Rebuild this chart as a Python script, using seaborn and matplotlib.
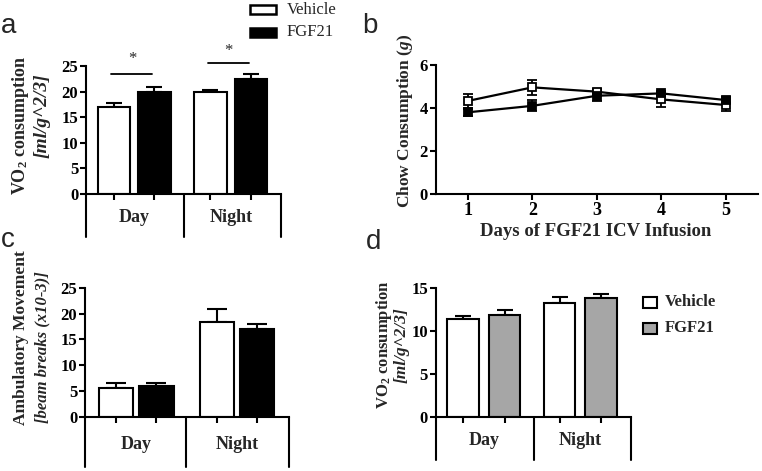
import matplotlib
matplotlib.use('Agg')
import matplotlib.pyplot as plt
import matplotlib.patches as mpatches
import seaborn as sns
import pandas as pd
import numpy as np

# ---- data ----
periods = ['Day', 'Night']
groups = ['Vehicle', 'FGF21']

# a: VO2 consumption (first study)
vo2_a_vehicle = [17.0, 20.0]
vo2_a_vehicle_err = [0.8, 0.4]
vo2_a_fgf21 = [20.0, 22.5]
vo2_a_fgf21_err = [0.9, 0.9]

# b: chow consumption per day
days = [1, 2, 3, 4, 5]
chow_vehicle = [4.33, 4.96, 4.76, 4.40, 4.14]
chow_vehicle_err = [0.31, 0.34, 0.12, 0.35, 0.28]
chow_fgf21 = [3.80, 4.10, 4.57, 4.68, 4.37]
chow_fgf21_err = [0.17, 0.25, 0.23, 0.12, 0.16]

# c: ambulatory movement
amb_vehicle = [5.6, 18.35]
amb_vehicle_err = [1.0, 2.5]
amb_fgf21 = [5.95, 16.9]
amb_fgf21_err = [0.55, 1.0]

# d: VO2 consumption (second study)
vo2_d_vehicle = [11.45, 13.32]
vo2_d_vehicle_err = [0.3, 0.63]
vo2_d_fgf21 = [11.85, 13.83]
vo2_d_fgf21_err = [0.6, 0.5]

W, H = 762, 471


def fx(px):
    return px / W


def fy(py):
    return 1 - py / H


sns.set_style('ticks')
plt.rcParams['font.family'] = ['Liberation Serif', 'DejaVu Serif']
plt.rcParams['font.weight'] = 'bold'
plt.rcParams['mathtext.fontset'] = 'custom'
plt.rcParams['mathtext.rm'] = 'Liberation Serif:bold'
plt.rcParams['mathtext.it'] = 'Liberation Serif:italic:bold'
plt.rcParams['mathtext.bf'] = 'Liberation Serif:bold'
plt.rcParams['axes.linewidth'] = 1.5

fig = plt.figure(figsize=(W / 100, H / 100), dpi=100)


def axes_px(x0, x1, y0, y1):
    return fig.add_axes([fx(x0), fy(y1), (x1 - x0) / W, (y1 - y0) / H])


def style_axis(ax):
    sns.despine(ax=ax)
    ax.tick_params(axis='both', direction='out', length=4, width=1.5,
                   colors='black', pad=1.5)
    for sp in ax.spines.values():
        sp.set_color('black')
        sp.set_linewidth(1.5)
    ax.set_facecolor('none')


def bar_panel(ax, veh, veh_err, fgf, fgf_err, ymax, ystep, fgf_color,
              width, gap, capsize, box_depth, xlim, divider):
    df = pd.DataFrame({
        'period': periods * 2,
        'group': ['Vehicle'] * 2 + ['FGF21'] * 2,
        'value': veh + fgf,
    })
    sns.barplot(data=df, x='period', y='value', hue='group', order=periods,
                hue_order=groups, palette={'Vehicle': 'white', 'FGF21': fgf_color},
                edgecolor='black', linewidth=1.5, width=width, gap=gap,
                errorbar=None, legend=False, ax=ax, zorder=2)
    centers = []
    for cont, err in zip(ax.containers, [veh_err, fgf_err]):
        xs = [b.get_x() + b.get_width() / 2 for b in cont]
        hs = [b.get_height() for b in cont]
        ax.errorbar(xs, hs, yerr=[np.zeros(len(err)), err], fmt='none',
                    ecolor='black', elinewidth=1.5, capsize=capsize,
                    capthick=1.5, zorder=1)
        centers += xs
    ax.set_xlim(*xlim)
    ax.set_ylim(0, ymax)
    ax.set_yticks(np.arange(0, ymax + 0.1, ystep))
    ax.set_xticks(sorted(centers))
    ax.set_xticklabels([])
    ax.set_xlabel('')
    ax.set_ylabel('')
    style_axis(ax)
    ax.tick_params(axis='y', labelsize=12)
    tr = ax.get_xaxis_transform()
    for xv in [xlim[0], divider, xlim[1]]:
        ax.plot([xv, xv], [0, -box_depth], transform=tr, clip_on=False,
                color='black', lw=1.5)
    for i, p in enumerate(periods):
        ax.text(i, -box_depth * 0.55, p, transform=tr, ha='center',
                va='center', fontsize=13, fontweight='bold')


# ---- a ----
ax_a = axes_px(86, 281, 66, 194)
bar_panel(ax_a, vo2_a_vehicle, vo2_a_vehicle_err, vo2_a_fgf21, vo2_a_fgf21_err,
          25, 5, 'black', 0.84, 0.2, 6, 43 / 128, (-0.497, 1.52), 0.515)
for g, yl, ys in [(0, 23.4, 26.4), (1, 25.6, 27.9)]:
    ax_a.plot([g - 0.24, g + 0.19], [yl, yl], color='black', lw=1.3, clip_on=False)
    ax_a.text(g - 0.02, ys, '*', ha='center', va='center', fontsize=12,
              fontweight='normal', clip_on=False)

fig.text(fx(21), fy(125), r'VO$_2$ consumption', rotation=90, ha='center',
         va='center', fontsize=13, fontweight='bold')
fig.text(fx(42), fy(116), '[ml/g^2/3]', rotation=90, ha='center', va='center',
         fontsize=14, fontweight='bold', fontstyle='italic')

# top legend
for (y0, fc, lab) in [(5, 'white', 'Vehicle'), (28, 'black', 'FGF21')]:
    fig.add_artist(mpatches.Rectangle((fx(250), fy(y0 + 9)), 26 / W, 9 / H,
                                      transform=fig.transFigure, facecolor=fc,
                                      edgecolor='black', lw=1.8))
    fig.text(fx(287), fy(y0 + 4.5), lab, ha='left', va='center', fontsize=12,
             fontweight='normal')

# ---- b ----
ax_b = axes_px(435.7, 758, 65, 194)
ax_b.errorbar(days, chow_vehicle, yerr=chow_vehicle_err, fmt='none',
              ecolor='black', elinewidth=1.3, capsize=3.5, capthick=1.3, zorder=2)
ax_b.errorbar(days, chow_fgf21, yerr=chow_fgf21_err, fmt='none',
              ecolor='black', elinewidth=1.3, capsize=3.5, capthick=1.3, zorder=2)
sns.lineplot(x=days, y=chow_vehicle, ax=ax_b, color='black', lw=1.6,
             marker='s', markersize=5.5, markerfacecolor='white',
             markeredgecolor='black', markeredgewidth=1.3, zorder=3)
sns.lineplot(x=days, y=chow_fgf21, ax=ax_b, color='black', lw=1.6,
             marker='s', markersize=5.5, markerfacecolor='black',
             markeredgecolor='black', markeredgewidth=1.3, zorder=4)
ax_b.set_xlim(0.5, 5.5)
ax_b.set_ylim(0, 6)
ax_b.set_yticks([0, 2, 4, 6])
ax_b.set_xticks(days)
style_axis(ax_b)
ax_b.tick_params(axis='y', labelsize=12)
ax_b.tick_params(axis='x', labelsize=13)
fig.text(fx(596), fy(232), 'Days of FGF21 ICV Infusion', ha='center',
         va='center', fontsize=13.5, fontweight='bold')
fig.text(fx(405), fy(121), r'Chow Consumption ($\mathit{g}$)', rotation=90,
         ha='center', va='center', fontsize=12.5, fontweight='bold')

# ---- c ----
ax_c = axes_px(85, 289.3, 287.7, 416.7)
bar_panel(ax_c, amb_vehicle, amb_vehicle_err, amb_fgf21, amb_fgf21_err,
          25, 5, 'black', 0.8, 0.15, 7.5, 50 / 129, (-0.51, 1.52), 0.49)
fig.text(fx(21), fy(338), 'Ambulatory Movement', rotation=90, ha='center',
         va='center', fontsize=12.5, fontweight='bold')
fig.text(fx(42), fy(347), '[beam breaks (x10-3)]', rotation=90, ha='center',
         va='center', fontsize=12, fontweight='bold', fontstyle='italic')

# ---- d ----
ax_d = axes_px(435.7, 630.7, 288.3, 416.7)
bar_panel(ax_d, vo2_d_vehicle, vo2_d_vehicle_err, vo2_d_fgf21, vo2_d_fgf21_err,
          15, 5, '#a6a6a6', 0.86, 0.24, 6, 43 / 128.4, (-0.497, 1.52), 0.52)
fig.text(fx(384), fy(345), r'VO$_2$ consumption', rotation=90, ha='center',
         va='center', fontsize=12, fontweight='bold')
fig.text(fx(402), fy(345), '[ml/g^2/3]', rotation=90, ha='center', va='center',
         fontsize=12.5, fontweight='bold', fontstyle='italic')
for (y0, fc, lab) in [(297, 'white', 'Vehicle'), (323, '#a6a6a6', 'FGF21')]:
    fig.add_artist(mpatches.Rectangle((fx(643), fy(y0 + 11)), 14 / W, 11 / H,
                                      transform=fig.transFigure, facecolor=fc,
                                      edgecolor='black', lw=1.5))
    fig.text(fx(665), fy(y0 + 5.5), lab, ha='left', va='center', fontsize=12,
             fontweight='bold')

# panel letters
for lab, x, y in [('a', 1, 33), ('b', 362, 33), ('c', 1, 247), ('d', 366, 249)]:
    fig.text(fx(x), fy(y), lab, ha='left', va='baseline', fontsize=20,
             fontweight='normal', family=['Liberation Sans', 'DejaVu Sans'])

fig.savefig('out.png', dpi=100)
